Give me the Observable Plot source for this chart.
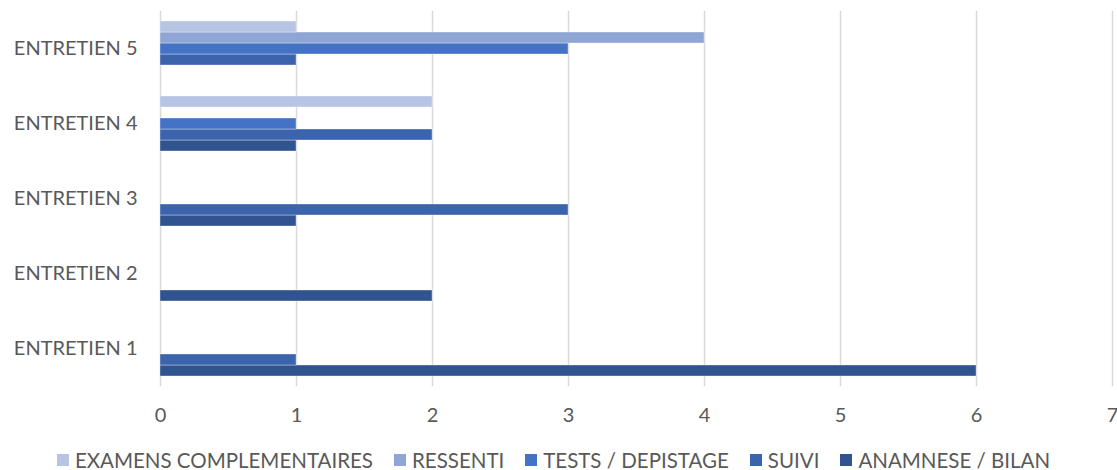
<!DOCTYPE html>
<html>
<head>
<meta charset="utf-8">
<script src="https://cdn.jsdelivr.net/npm/d3@7"></script>
<script src="https://cdn.jsdelivr.net/npm/@observablehq/plot@0.6"></script>
<style>
  body { margin: 0; background: #fff; font-family: Lato, "Open Sans", sans-serif; }
  #legend { display: flex; justify-content: center; gap: 21px; margin-top: 18px; padding-right: 10px; font-size: 20.5px; line-height: 24px; color: #595959; }
  .item { display: flex; align-items: center; }
  .sw { width: 12px; height: 12px; margin-right: 6px; display: inline-block; }
</style>
</head>
<body>
<div id="chart"></div>
<div id="legend"></div>
<script>
const categories = ["ENTRETIEN 1", "ENTRETIEN 2", "ENTRETIEN 3", "ENTRETIEN 4", "ENTRETIEN 5"];
const seriesNames = ["ANAMNESE / BILAN", "SUIVI", "TESTS / DEPISTAGE", "RESSENTI", "EXAMENS COMPLEMENTAIRES"];
const anamnese = [6, 2, 1, 1, 0];
const suivi = [1, 0, 3, 2, 1];
const tests = [0, 0, 0, 1, 3];
const ressenti = [0, 0, 0, 0, 4];
const examens = [0, 0, 0, 2, 1];
const seriesColors = ["#30548F", "#3C64AC", "#4472C4", "#8FA5D4", "#B8C4E4"];
const xTicks = [0, 1, 2, 3, 4, 5, 6, 7];

const seriesValues = [anamnese, suivi, tests, ressenti, examens];
const data = [];
categories.forEach((c, i) => {
  seriesNames.forEach((s, j) => {
    data.push({entretien: c, series: s, value: seriesValues[j][i]});
  });
});

const chart = Plot.plot({
  width: 1117,
  height: 430,
  marginLeft: 160,
  marginRight: 5,
  marginTop: 10,
  marginBottom: 43,
  style: {fontFamily: "Lato, sans-serif", fontSize: "20px", color: "#595959", background: "#fff", overflow: "visible"},
  x: {domain: [0, 7], ticks: xTicks, tickFormat: "d", tickSize: 0, tickPadding: 31, label: null},
  y: {domain: seriesNames.slice().reverse(), axis: null, padding: 0},
  fy: {domain: categories.slice().reverse(), axis: "left", tickSize: 0, tickPadding: 23, label: null, paddingInner: 0.27, paddingOuter: 0.135},
  color: {domain: seriesNames, range: seriesColors},
  marks: [
    Plot.ruleX(xTicks, {x: d => d, stroke: "#d9d9d9", strokeWidth: 1.5, insetTop: -10.2, insetBottom: -10.2}),
    Plot.barX(data, {
      filter: d => d.value > 0,
      x: "value", y: "series", fy: "entretien", fill: "series",
      stroke: "#ffffff", strokeOpacity: 0.35, strokeWidth: 1
    })
  ]
});
document.getElementById("chart").appendChild(chart);

const legend = document.getElementById("legend");
seriesNames.slice().reverse().forEach(s => {
  const idx = seriesNames.indexOf(s);
  const it = document.createElement("div");
  it.className = "item";
  const sw = document.createElement("span");
  sw.className = "sw";
  sw.style.background = seriesColors[idx];
  const t = document.createElement("span");
  t.textContent = s;
  it.appendChild(sw);
  it.appendChild(t);
  legend.appendChild(it);
});
</script>
</body>
</html>
